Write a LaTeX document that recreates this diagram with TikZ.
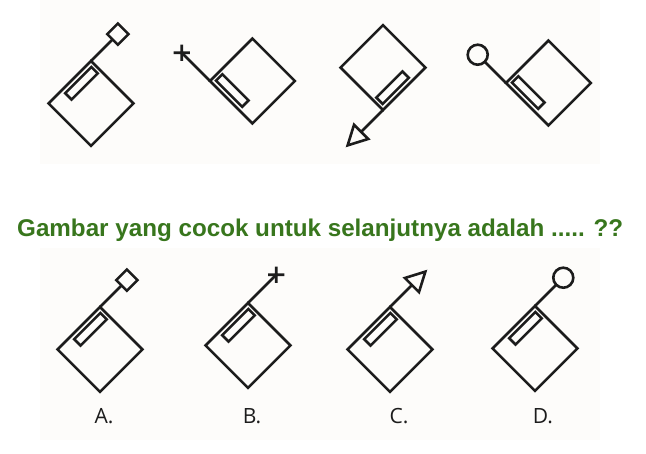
\documentclass[tikz,border=0pt]{standalone}
\usepackage{fontspec}
\setmainfont{Liberation Sans}
\newfontfamily\labfont{Open Sans}
\definecolor{ink}{HTML}{1C1C1C}
\definecolor{qgreen}{HTML}{38761D}
\definecolor{panel}{RGB}{253,252,250}
\tikzset{
  fig/.style={draw=ink, line width=2.6pt, line join=miter},
  optlabel/.style={text=ink, font=\labfont\fontsize{21}{24}\selectfont, inner sep=0pt},
}
\newcommand{\figbody}{%
  \draw[fig] (0,0) -- (-60,0) -- (-60,-60) -- (0,-60) -- cycle;
  \draw[fig] (-41,-4.5) rectangle (-4,-13.5);
}
\newcommand{\tipsquare}{\draw[fig] (0,0) -- (30.5,0); \draw[fig] (30.5,-7.5) rectangle (45.5,7.5);}
\newcommand{\tipcross}{\draw[fig] (0,0) -- (40,0); \draw[fig] (34.3,-5.7) -- (45.7,5.7) (34.3,5.7) -- (45.7,-5.7);}
\newcommand{\tiptri}{\draw[fig] (0,0) -- (31,0); \draw[fig] (31,10) -- (50,0) -- (31,-10) -- cycle;}
\newcommand{\tipcirc}{\draw[fig] (0,0) -- (30,0); \draw[fig] (40,0) circle[radius=10];}
\newcommand{\flagfig}[4]{\begin{scope}[shift={(#1,-#2)}, rotate=#3] \figbody #4 \end{scope}}
\begin{document}
\begin{tikzpicture}[x=1pt,y=1pt]
\useasboundingbox (0,0) rectangle (646,-454);
\fill[white] (0,0) rectangle (646,-454);
\fill[panel] (40,0) rectangle (600,-164);
\fill[panel] (40,-248) rectangle (600,-440);
% top row
\flagfig{91}{61}{45}{\tipsquare}
\flagfig{210}{81}{135}{\tipcross}
\flagfig{383}{110}{225}{\tiptri}
\flagfig{506}{83}{135}{\tipcirc}
% question
\node[anchor=base west, text=qgreen, font=\bfseries\fontsize{24.2}{28}\selectfont, inner sep=0pt] (title) at (17,-236.7) {Gambar yang cocok untuk selanjutnya adalah ..... ??};
% options
\flagfig{100}{307}{45}{\tipsquare}
\flagfig{248}{303}{45}{\tipcross}
\flagfig{390}{307}{45}{\tiptri}
\flagfig{535}{306}{45}{\tipcirc}
\node[optlabel] (labA) at (104,-416) {A.};
\node[optlabel] (labB) at (252,-416) {B.};
\node[optlabel] (labC) at (399,-416) {C.};
\node[optlabel] (labD) at (543,-416) {D.};
\end{tikzpicture}
\end{document}
